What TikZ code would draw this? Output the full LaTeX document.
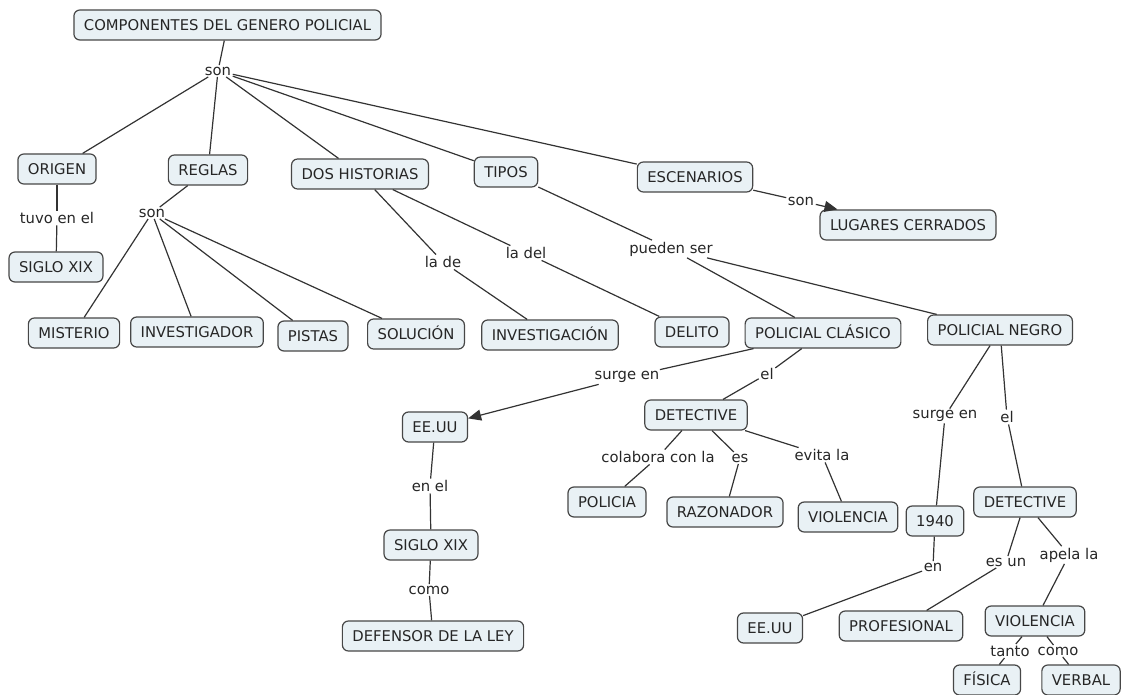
\documentclass[tikz,border=0pt]{standalone}
\usepackage{fontspec}
\setmainfont{DejaVu Sans}
\usetikzlibrary{arrows.meta,calc}
\definecolor{boxfill}{HTML}{E9F1F5}
\definecolor{boxline}{HTML}{474747}
\definecolor{lnk}{HTML}{333333}
\definecolor{txt}{HTML}{262626}
\begin{document}
\begin{tikzpicture}[x=1pt,y=-1pt,
  concept/.style={draw=boxline, fill=boxfill, line width=1.2pt, rounded corners=6pt,
    inner xsep=10pt, inner ysep=0pt, minimum height=30pt, text height=12.4pt, text depth=1.6pt,
    font=\fontsize{14.8}{17}\selectfont, text=txt},
  lab/.style={inner sep=1.5pt, font=\fontsize{14.8}{17}\selectfont, text=txt},
  link/.style={draw=lnk, line width=1.2pt},
  arr/.style={link, -{Triangle[length=13pt,width=11pt]}}]
\useasboundingbox (0,0) rectangle (1121,695);
% concepts
\node[concept] (c) at (227.5,25) {COMPONENTES DEL GENERO POLICIAL};
\node[concept] (origen) at (57,169) {ORIGEN};
\node[concept] (reglas) at (208,170) {REGLAS};
\node[concept] (dos) at (360,174) {DOS HISTORIAS};
\node[concept] (tipos) at (506,172) {TIPOS};
\node[concept] (esc) at (695,177) {ESCENARIOS};
\node[concept] (lug) at (908,225) {LUGARES CERRADOS};
\node[concept] (siglo1) at (56,267) {SIGLO XIX};
\node[concept] (mist) at (74,333) {MISTERIO};
\node[concept] (invgdor) at (197,332) {INVESTIGADOR};
\node[concept] (pistas) at (313,336) {PISTAS};
\node[concept] (sol) at (416,334) {SOLUCIÓN};
\node[concept] (invcion) at (550,335) {INVESTIGACIÓN};
\node[concept] (delito) at (692,332) {DELITO};
\node[concept] (clasico) at (823,333) {POLICIAL CLÁSICO};
\node[concept] (negro) at (1000,330) {POLICIAL NEGRO};
\node[concept] (eeuu1) at (435,427) {EE.UU};
\node[concept] (det1) at (696,415) {DETECTIVE};
\node[concept] (policia) at (607,502) {POLICIA};
\node[concept] (razon) at (725,512) {RAZONADOR};
\node[concept] (viol1) at (848,517) {VIOLENCIA};
\node[concept] (n1940) at (935,521) {1940};
\node[concept] (det2) at (1025,502) {DETECTIVE};
\node[concept] (siglo2) at (431,545) {SIGLO XIX};
\node[concept] (defensor) at (433,636) {DEFENSOR DE LA LEY};
\node[concept] (eeuu2) at (770,628) {EE.UU};
\node[concept] (prof) at (901,626) {PROFESIONAL};
\node[concept] (viol2) at (1035,621) {VIOLENCIA};
\node[concept] (fisica) at (987,680) {FÍSICA};
\node[concept] (verbal) at (1081,680) {VERBAL};
% linking phrases
\node[lab] (s1) at (218,71) {son};
\node[lab] (s2) at (801,201) {son};
\node[lab] (tuvo) at (57,218) {tuvo en el};
\node[lab] (s3) at (152,213) {son};
\node[lab] (lade) at (443,262) {la de};
\node[lab] (ladel) at (526,253) {la del};
\node[lab] (pueden) at (671,249) {pueden ser};
\node[lab] (surge1) at (627,377) {surge en};
\node[lab] (el1) at (767,374) {el};
\node[lab] (colab) at (658,457) {colabora con la};
\node[lab] (es) at (740,458) {es};
\node[lab] (evita) at (822,455) {evita la};
\node[lab] (enel) at (430,486) {en el};
\node[lab] (como1) at (429,590) {como};
\node[lab] (surge2) at (945,416) {surge en};
\node[lab] (el2) at (1007,417) {el};
\node[lab] (en) at (933,567) {en};
\node[lab] (esun) at (1006,562) {es un};
\node[lab] (apela) at (1069,555) {apela la};
\node[lab] (tanto) at (1010,651) {tanto};
\node[lab] (como2) at (1058,651) {como};
% connectors
\draw[link] (c) -- (s1);
\foreach \t in {origen,reglas,dos,tipos,esc} \draw[link] (s1) -- (\t);
\draw[link] (esc) -- (s2);
\draw[arr] (s2) -- ([xshift=18pt]lug.north west);
\draw[link] (origen) -- (tuvo);
\draw[link] (tuvo) -- (siglo1);
\draw[link] (reglas) -- (s3);
\foreach \t in {mist,invgdor,pistas,sol} \draw[link] (s3) -- (\t);
\draw[link] (dos) -- (lade);
\draw[link] (lade) -- (invcion);
\draw[link] (dos) -- (ladel);
\draw[link] (ladel) -- (delito);
\draw[link] (tipos) -- (pueden);
\draw[link] (pueden) -- (clasico);
\draw[link] (pueden) -- (negro);
\draw[link] (clasico) -- (surge1);
\draw[arr] (surge1) -- (eeuu1);
\draw[link] (clasico) -- (el1);
\draw[link] (el1) -- (det1);
\draw[link] (det1) -- (colab);
\draw[link] (colab) -- (policia);
\draw[link] (det1) -- (es);
\draw[link] (es) -- (razon);
\draw[link] (det1) -- (evita);
\draw[link] (evita) -- (viol1);
\draw[link] (eeuu1) -- (enel);
\draw[link] (enel) -- (siglo2);
\draw[link] (siglo2) -- (como1);
\draw[link] (como1) -- (defensor);
\draw[link] (negro) -- (surge2);
\draw[link] (surge2) -- (n1940);
\draw[link] (negro) -- (el2);
\draw[link] (el2) -- (det2);
\draw[link] (n1940) -- (en);
\draw[link] (en) -- (eeuu2);
\draw[link] (det2) -- (esun);
\draw[link] (esun) -- (prof);
\draw[link] (det2) -- (apela);
\draw[link] (apela) -- (viol2);
\draw[link] (viol2) -- (tanto);
\draw[link] (tanto) -- (fisica);
\draw[link] (viol2) -- (como2);
\draw[link] (como2) -- (verbal);
\end{tikzpicture}
\end{document}
